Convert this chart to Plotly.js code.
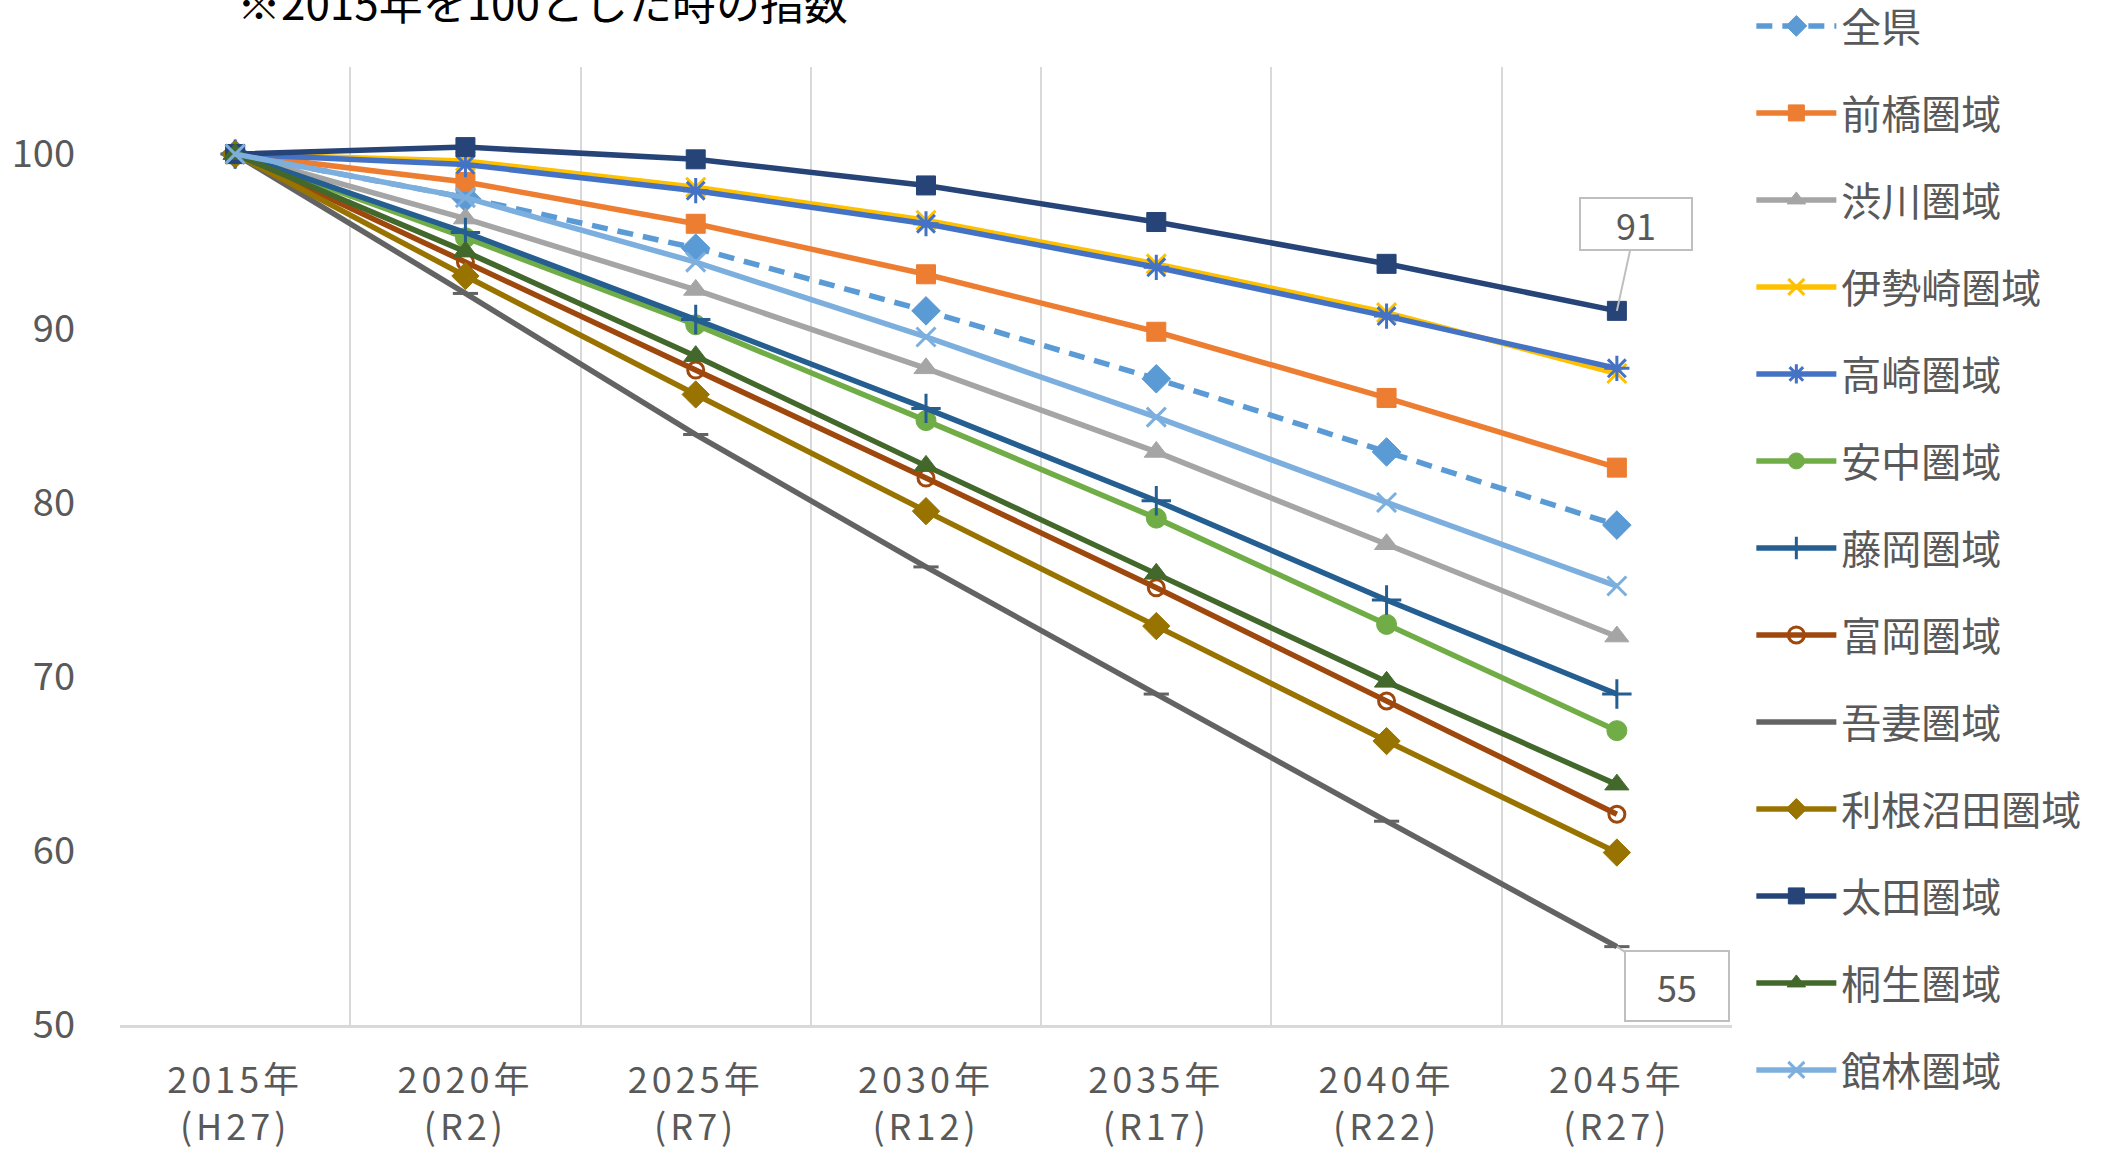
<!DOCTYPE html>
<html>
<head>
<meta charset="utf-8">
<script src="https://cdn.plot.ly/plotly-3.0.1.min.js"></script>
<style>
  html, body { margin: 0; padding: 0; background: #ffffff; }
  #chart { width: 2103px; height: 1149px; }
  /* the category labels are set with a little extra tracking */
  #chart .xtick text { letter-spacing: 4px; }
</style>
</head>
<body>
<div id="chart"></div>
<script>
// Population index by area (2015 = 100)
const years = ['2015年<br>(H27)', '2020年<br>(R2)', '2025年<br>(R7)', '2030年<br>(R12)',
               '2035年<br>(R17)', '2040年<br>(R22)', '2045年<br>(R27)'];

const zenken     = [100, 97.5, 94.6, 91.0, 87.1, 82.9, 78.7];
const maebashi   = [100, 98.4, 96.0, 93.1, 89.8, 86.0, 82.0];
const shibukawa  = [100, 96.3, 92.2, 87.7, 82.9, 77.6, 72.3];
const isesaki    = [100, 99.6, 98.1, 96.2, 93.7, 90.9, 87.4];
const takasaki   = [100, 99.4, 97.9, 96.0, 93.5, 90.7, 87.7];
const annaka     = [100, 95.2, 90.2, 84.7, 79.1, 73.0, 66.9];
const fujioka    = [100, 95.5, 90.5, 85.4, 80.1, 74.4, 69.0];
const tomioka    = [100, 93.8, 87.6, 81.4, 75.1, 68.6, 62.1];
const agatsuma   = [100, 92.0, 83.9, 76.3, 69.0, 61.7, 54.5];
const tonenumata = [100, 93.0, 86.2, 79.5, 72.9, 66.3, 59.9];
const ota        = [100, 100.4, 99.7, 98.2, 96.1, 93.7, 91.0];
const kiryu      = [100, 94.4, 88.4, 82.1, 75.9, 69.7, 63.8];
const tatebayashi= [100, 97.5, 93.8, 89.5, 84.9, 80.0, 75.2];

const seriesNames = ['全県', '前橋圏域', '渋川圏域', '伊勢崎圏域', '高崎圏域', '安中圏域', '藤岡圏域',
                     '富岡圏域', '吾妻圏域', '利根沼田圏域', '太田圏域', '桐生圏域', '館林圏域'];
const seriesValues = [zenken, maebashi, shibukawa, isesaki, takasaki, annaka, fujioka,
                      tomioka, agatsuma, tonenumata, ota, kiryu, tatebayashi];

// line colour, marker symbol, marker size, dash
const styles = [
  {c: '#5B9BD5', s: 'diamond',          z: 22, dash: '16px,10px'},
  {c: '#ED7D31', s: 'square',           z: 19},
  {c: '#A5A5A5', s: 'triangle-up',      z: 21},
  {c: '#FFC000', s: 'x-thin-open',      z: 19},
  {c: '#4472C4', s: 'asterisk-open',    z: 21},
  {c: '#70AD47', s: 'circle',           z: 20},
  {c: '#255E91', s: 'cross-thin-open',  z: 21},
  {c: '#9E480E', s: 'circle-open',      z: 16},
  {c: '#636363', s: 'line-ew-open',     z: 18},
  {c: '#997300', s: 'diamond',          z: 21},
  {c: '#264478', s: 'square',           z: 19},
  {c: '#43682B', s: 'triangle-up',      z: 21},
  {c: '#7CAFDD', s: 'x-thin-open',      z: 19}
];

const traces = seriesNames.map((name, i) => {
  const st = styles[i];
  return {
    type: 'scatter',
    mode: 'lines+markers',
    name: name,
    legendgroup: 'g' + i,
    x: years,
    y: seriesValues[i],
    line: {color: st.c, width: 5.5, dash: st.dash || 'solid'},
    marker: {symbol: st.s, size: st.z, color: st.c,
             line: {color: st.c, width: st.s.indexOf('open') >= 0 ? 3 : 1}},
    hoverinfo: 'name+y'
  };
});

const xLabelFont = {family: '"Noto Sans CJK JP", "Noto Sans", sans-serif', size: 36, color: '#595959'};
const yLabelFont = {family: '"Noto Sans CJK JP", "Noto Sans", sans-serif', size: 38, color: '#595959'};
const lastIdx = years.length - 1;

const layout = {
  width: 2103,
  height: 1149,
  autosize: false,
  paper_bgcolor: '#ffffff',
  plot_bgcolor: '#ffffff',
  margin: {l: 120, r: 371, t: 67, b: 124, pad: 0, autoexpand: false},
  showlegend: true,
  legend: {
    x: 1.012, xanchor: 'left',
    y: 1.0768, yanchor: 'top',
    traceorder: 'grouped',
    tracegroupgap: 32,
    itemwidth: 80,
    maxheight: 1200,
    font: {family: '"Noto Sans CJK JP", sans-serif', size: 40, color: '#595959'},
    bgcolor: 'rgba(0,0,0,0)'
  },
  xaxis: {
    type: 'category',
    range: [-0.5, 6.5],
    tickson: 'boundaries',
    ticks: '',
    showgrid: true,
    gridcolor: '#D9D9D9',
    gridwidth: 2,
    showline: true,
    linecolor: '#D9D9D9',
    linewidth: 3,
    zeroline: false,
    tickfont: xLabelFont,
    ticklabelstandoff: 22,
    fixedrange: true
  },
  yaxis: {
    range: [50, 105],
    tickvals: [50, 60, 70, 80, 90, 100],
    ticks: '',
    showgrid: false,
    showline: false,
    zeroline: false,
    tickfont: yLabelFont,
    ticklabelstandoff: 44,
    fixedrange: true
  },
  annotations: [
    {
      text: '※2015年を100とした時の指数',
      xref: 'paper', yref: 'paper',
      x: 0.2624, y: 1.069, xanchor: 'center', yanchor: 'middle',
      showarrow: false,
      font: {family: '"Noto Sans CJK JP", sans-serif', size: 44, color: '#000000'}
    },
    {
      text: String(Math.round(ota[lastIdx])),
      x: years[lastIdx], y: ota[lastIdx], xref: 'x', yref: 'y',
      showarrow: true, arrowhead: 0, arrowwidth: 2, arrowcolor: '#BFBFBF',
      ax: 19, ay: -87,
      width: 106, height: 46,
      bgcolor: '#ffffff', bordercolor: '#BFBFBF', borderwidth: 2, borderpad: 2,
      font: xLabelFont
    },
    {
      text: String(Math.round(agatsuma[lastIdx])),
      x: years[lastIdx], y: agatsuma[lastIdx], xref: 'x', yref: 'y',
      showarrow: true, arrowhead: 0, arrowwidth: 2, arrowcolor: '#BFBFBF',
      ax: 60, ay: 39,
      width: 98, height: 64,
      bgcolor: '#ffffff', bordercolor: '#BFBFBF', borderwidth: 2, borderpad: 2,
      font: xLabelFont
    }
  ]
};

Plotly.newPlot('chart', traces, layout, {displayModeBar: false, staticPlot: true});
</script>
</body>
</html>
